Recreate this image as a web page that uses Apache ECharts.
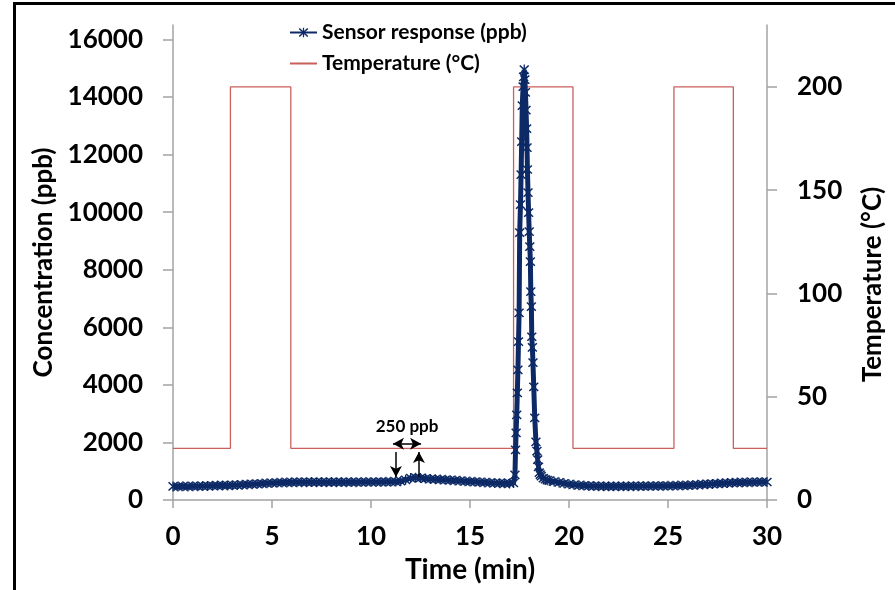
<!DOCTYPE html>
<html>
<head>
<meta charset="utf-8">
<script src="https://cdn.jsdelivr.net/npm/echarts@6/dist/echarts.min.js"></script>
<style>
  html, body { margin: 0; padding: 0; background: #fff; }
  #main { width: 895px; height: 590px; }
</style>
</head>
<body>
<div id="main"></div>
<script>
// 传感器响应 (ppb) 随时间 (min) 变化
var sensorTime = [
    0, 0.25, 0.5, 0.75, 1, 1.25, 1.5, 1.75, 2, 2.25, 2.5, 2.75, 3, 3.25, 3.5, 3.75,
    4, 4.25, 4.5, 4.75, 5, 5.25, 5.5, 5.75, 6, 6.25, 6.5, 6.75, 7, 7.25, 7.5, 7.75,
    8, 8.25, 8.5, 8.75, 9, 9.25, 9.5, 9.75, 10, 10.25, 10.5, 10.75, 11, 11.25, 11.5, 11.75,
    12, 12.25, 12.5, 12.75, 13, 13.25, 13.5, 13.75, 14, 14.25, 14.5, 14.75, 15, 15.25, 15.5, 15.75,
    16, 16.25, 16.5, 16.75, 17, 17.2,
    17.27, 17.3, 17.33, 17.36, 17.39, 17.42, 17.45, 17.48, 17.51, 17.55, 17.58, 17.61, 17.64, 17.68,
    17.71, 17.74, 17.77, 17.8, 17.83, 17.86, 17.88, 17.9, 17.93, 17.96, 17.99, 18.02, 18.05, 18.07,
    18.1, 18.12, 18.15, 18.18, 18.22, 18.27, 18.33, 18.38, 18.42, 18.46, 18.5, 18.55,
    18.6, 18.7, 18.8, 18.9, 19, 19.25, 19.5, 19.75, 20, 20.25, 20.5, 20.75,
    21, 21.25, 21.5, 21.75, 22, 22.25, 22.5, 22.75, 23, 23.25, 23.5, 23.75,
    24, 24.25, 24.5, 24.75, 25, 25.25, 25.5, 25.75, 26, 26.25, 26.5, 26.75,
    27, 27.25, 27.5, 27.75, 28, 28.25, 28.5, 28.75, 29, 29.25, 29.5, 29.75, 30
];
var sensorPpb = [
    470, 465, 475, 470, 480, 478, 485, 490, 495, 500, 505, 505, 515, 520, 530, 540,
    550, 560, 570, 580, 590, 600, 605, 610, 615, 618, 620, 620, 622, 620, 622, 620,
    622, 620, 622, 620, 622, 620, 622, 625, 625, 626, 628, 630, 632, 640, 655, 700,
    760, 775, 765, 745, 730, 720, 710, 700, 690, 680, 665, 650, 640, 630, 620, 610,
    600, 590, 585, 580, 575, 590,
    870, 1740, 2330, 2960, 3720, 4520, 5500, 6500, 9290, 10260, 11300, 12450, 13700, 14360,
    14700, 14950, 14600, 14160, 13540, 12900, 12240, 11480, 10680, 9980, 9320, 8800, 8280, 7240,
    6720, 5670, 5300, 4770, 3930, 2850, 2020, 1700, 1400, 1150, 950, 880,
    830, 760, 720, 690, 670, 640, 610, 580, 550, 530, 510, 500,
    490, 485, 480, 478, 475, 475, 478, 476, 478, 480, 480, 482,
    485, 486, 488, 490, 492, 495, 500, 505, 510, 520, 530, 540,
    550, 560, 570, 580, 590, 600, 605, 610, 615, 620, 622, 625, 625
];

// 温度 (°C) 阶梯曲线
var tempTime = [0, 2.9, 2.9, 5.95, 5.95, 17.2, 17.2, 20.2, 20.2, 25.3, 25.3, 28.3, 28.3, 30];
var tempC = [25, 25, 200, 200, 25, 25, 200, 200, 25, 25, 200, 200, 25, 25];

// 刻度
var xTicks = [0, 5, 10, 15, 20, 25, 30];
var yLeftTicks = [0, 2000, 4000, 6000, 8000, 10000, 12000, 14000, 16000];
var yRightTicks = [0, 50, 100, 150, 200];

// 250 ppb 标注箭头
var noteText = '250 ppb';
var noteSpan = [11.11, 12.53, 1950];
var noteDown = [11.26, 1670, 800];
var noteUp = [12.42, 800, 1670];

var sensorData = sensorTime.map(function (t, i) { return [t, sensorPpb[i]]; });
var tempData = tempTime.map(function (t, i) { return [t, tempC[i]]; });

var navy = '#0d2a66';
var axisGray = '#a3a3a3';
var fontFam = 'Lato, "Open Sans", sans-serif';
var starPath = 'path://M4.4,0 L5.6,0 L5.6,10 L4.4,10 Z M0.4,1.4 L1.4,0.4 L9.6,8.6 L8.6,9.6 Z M8.6,0.4 L9.6,1.4 L1.4,9.6 L0.4,8.6 Z';

function plain(v) { return String(v); }

var myChart = echarts.init(document.getElementById('main'));
myChart.setOption({
    animation: false,
    textStyle: { fontFamily: fontFam },
    graphic: [{
        type: 'rect',
        shape: { x: 14.5, y: 3.5, width: 1000, height: 1000 },
        style: { fill: 'none', stroke: '#000', lineWidth: 3 },
        silent: true
    }],
    legend: {
        orient: 'vertical',
        left: 284,
        top: 17,
        itemWidth: 27,
        itemHeight: 12,
        itemGap: 10,
        textStyle: { fontFamily: fontFam, fontSize: 21, fontWeight: 'bold', color: '#000' },
        data: [
            'Sensor response (ppb)',
            { name: 'Temperature (°C)', itemStyle: { opacity: 0 } }
        ]
    },
    grid: { left: 173, right: 128, top: 25, bottom: 90 },
    xAxis: {
        type: 'value',
        min: 0, max: 30, interval: 5,
        name: 'Time (min)',
        nameLocation: 'middle',
        nameGap: 56,
        nameTextStyle: { fontFamily: fontFam, fontSize: 28, fontWeight: 'bold', color: '#000' },
        axisLine: { lineStyle: { color: axisGray, width: 1.5 } },
        axisTick: { inside: false, length: 8, lineStyle: { color: axisGray, width: 1.5 }, customValues: xTicks },
        axisLabel: { margin: 24, fontSize: 26, fontWeight: 'bold', color: '#000', customValues: xTicks, formatter: plain },
        splitLine: { show: false }
    },
    yAxis: [{
        type: 'value',
        min: 0, max: 16500,
        name: 'Concentration (ppb)',
        nameLocation: 'middle',
        nameRotate: 90,
        nameGap: 115,
        nameTextStyle: { fontFamily: fontFam, fontSize: 26, fontWeight: 'bold', color: '#000' },
        axisLine: { show: true, lineStyle: { color: axisGray, width: 1.5 } },
        axisTick: { show: true, length: 10, lineStyle: { color: axisGray, width: 1.5 }, customValues: yLeftTicks },
        axisLabel: { margin: 30, fontSize: 26, fontWeight: 'bold', color: '#000', customValues: yLeftTicks, formatter: plain },
        splitLine: { show: false }
    }, {
        type: 'value',
        min: 0, max: 230,
        position: 'right',
        name: 'Temperature (°C)',
        nameLocation: 'middle',
        nameRotate: 90,
        nameGap: 93,
        nameTextStyle: { fontFamily: fontFam, fontSize: 26, fontWeight: 'bold', color: '#000', padding: [0, 44, 0, 0] },
        axisLine: { show: true, lineStyle: { color: axisGray, width: 1.5 } },
        axisTick: { show: true, length: 10, lineStyle: { color: axisGray, width: 1.5 }, customValues: yRightTicks },
        axisLabel: { margin: 30, fontSize: 26, fontWeight: 'bold', color: '#000', customValues: yRightTicks, formatter: plain },
        splitLine: { show: false }
    }],
    series: [{
        name: 'Temperature (°C)',
        type: 'line',
        yAxisIndex: 1,
        data: tempData,
        symbol: 'none',
        lineStyle: { color: '#c9605c', width: 1.3 },
        itemStyle: { color: '#c9605c' },
        z: 2
    }, {
        name: 'Sensor response (ppb)',
        type: 'line',
        yAxisIndex: 0,
        data: sensorData,
        symbol: starPath,
        symbolSize: 10,
        showAllSymbol: true,
        lineStyle: { color: navy, width: 5 },
        itemStyle: { color: navy },
        z: 3,
        markLine: {
            silent: true,
            symbolSize: [9, 11],
            lineStyle: { color: '#000', width: 1.5, type: 'solid' },
            label: { show: false },
            data: [
                [{ coord: [noteSpan[0], noteSpan[2]], symbol: 'arrow' },
                 { coord: [noteSpan[1], noteSpan[2]], symbol: 'arrow',
                   label: { show: true, formatter: noteText, position: 'middle', distance: 9,
                            fontFamily: fontFam, fontSize: 17, fontWeight: 'bold', color: '#000' } }],
                [{ coord: [noteDown[0], noteDown[1]], symbol: 'none' },
                 { coord: [noteDown[0], noteDown[2]], symbol: 'arrow' }],
                [{ coord: [noteUp[0], noteUp[1]], symbol: 'none' },
                 { coord: [noteUp[0], noteUp[2]], symbol: 'arrow' }]
            ]
        }
    }]
});
</script>
</body>
</html>
